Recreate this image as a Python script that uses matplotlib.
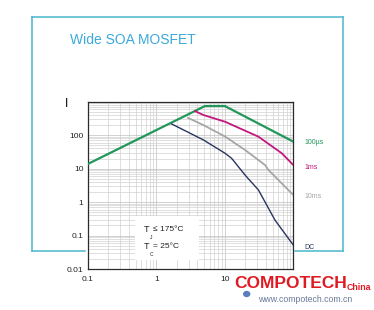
import numpy as np
import matplotlib
matplotlib.use("Agg")
import matplotlib.pyplot as plt
from matplotlib.lines import Line2D
from matplotlib.patches import Rectangle, Circle
import matplotlib.transforms as mtransforms

plt.rcParams["font.family"] = ["Liberation Sans", "DejaVu Sans"]

# ── data ─────────────────────────────────────────────────────────────────
x_100us = [0.1, 5.15, 10.0, 100]
y_100us = [13.7, 744, 744, 64]

x_1ms = [3.7, 4.88, 10.1, 31, 68, 100]
y_1ms = [520, 400, 252, 90, 28.7, 12.8]

x_10ms = [2.9, 4.88, 10.1, 19.8, 38.7, 43.4, 100]
y_10ms = [330, 200, 91, 36, 12.8, 9.1, 1.63]

x_dc = [1.68, 4.88, 10.1, 12.6, 19.8, 31, 54, 100]
y_dc = [216, 72, 28.7, 20.3, 6.4, 2.3, 0.29, 0.052]

series = [
    ("100\u00b5s", x_100us, y_100us, "#22975a", 1.6),
    ("1ms", x_1ms, y_1ms, "#c3177d", 1.3),
    ("10ms", x_10ms, y_10ms, "#a6a6a6", 1.3),
    ("DC", x_dc, y_dc, "#2a3560", 1.0),
]

x_ticks = [0.1, 1, 10]
x_ticklabels = ["0.1", "1", "10"]
y_ticks = [0.01, 0.1, 1, 10, 100]
y_ticklabels = ["0.01", "0.1", "1", "10", "100"]

# ── figure ───────────────────────────────────────────────────────────────
W, H = 374, 310
fig = plt.figure(figsize=(W / 100, H / 100), dpi=100)
fig.patch.set_facecolor("white")

def fx(px): return px / W
def fy(py): return 1 - py / H

# cyan frame behind the chart
frame_c = "#4ab6cc"
for xs, ys in [((32, 343), (17, 17)), ((32, 32), (17, 251)),
               ((343, 343), (17, 251)), ((32, 85), (251, 251)),
               ((295, 343), (251, 251))]:
    fig.add_artist(Line2D([fx(v) for v in xs], [fy(v) for v in ys],
                          color=frame_c, lw=1.1))

fig.text(fx(70), fy(40), "Wide SOA MOSFET", color="#3ba9da", fontsize=10,
         ha="left", va="center")
fig.text(fx(67), fy(104), "I", color="black", fontsize=8.5, ha="center", va="center")

ax = fig.add_axes([fx(87.7), fy(269), 205.6 / W, 167.3 / H])
ax.set_xscale("log"); ax.set_yscale("log")
ax.set_xlim(0.1, 100); ax.set_ylim(0.01, 1000)
ax.grid(True, which="major", color="#bfbfbf", lw=0.5)
ax.grid(True, which="minor", color="#d2d2d2", lw=0.5)
ax.set_axisbelow(True)
for s in ax.spines.values():
    s.set_color("#2b2b2b"); s.set_linewidth(0.9)

ax.set_xticks(x_ticks); ax.set_xticklabels(x_ticklabels)
ax.set_yticks(y_ticks); ax.set_yticklabels(y_ticklabels)
ax.xaxis.set_minor_formatter(plt.NullFormatter())
ax.yaxis.set_minor_formatter(plt.NullFormatter())
ax.tick_params(which="both", length=0, labelsize=6, colors="#222222")
ax.tick_params(axis="x", pad=5)
ax.tick_params(axis="y", pad=3)

for label, xs, ys, c, lw in series:
    ax.plot(xs, ys, color=c, lw=lw, solid_joinstyle="round", zorder=3)

# right-side labels
blend = mtransforms.blended_transform_factory(ax.transAxes, ax.transData)
label_y = [62, 11, 1.5, 0.045]
for (label, xs, ys, c, lw), yy in zip(series, label_y):
    ax.text(1.055, yy, label, transform=blend, color=c, fontsize=5,
            ha="left", va="center", clip_on=False)

# temperature box
ax.add_patch(Rectangle((0.23, 0.054), 0.31, 0.263, transform=ax.transAxes,
                       facecolor="white", edgecolor="none", zorder=4))
tk = dict(transform=ax.transAxes, color="#222222", zorder=5, va="center")
ax.text(0.287, 0.239, "T", fontsize=6.5, ha="center", **tk)
ax.text(0.308, 0.19, "J", fontsize=3.5, ha="center", **tk)
ax.text(0.318, 0.239, "\u2264 175\u00b0C", fontsize=6, ha="left", **tk)
ax.text(0.287, 0.133, "T", fontsize=6.5, ha="center", **tk)
ax.text(0.308, 0.084, "C", fontsize=3.5, ha="center", **tk)
ax.text(0.318, 0.133, "= 25\u00b0C", fontsize=6, ha="left", **tk)

# watermark
fig.text(fx(234), fy(284), "COMPOTECH", color="#e01a22", fontsize=12.5,
         fontweight="bold", ha="left", va="center")
fig.text(fx(347), fy(288), "China", color="#e01a22", fontsize=6.3,
         fontweight="bold", ha="left", va="center")
fig.text(fx(258), fy(300), "www.compotech.com.cn", color="#6a7a9a", fontsize=6.3,
         ha="left", va="center")
fig.add_artist(Circle((fx(246.7), fy(294)), 0.008, transform=fig.transFigure,
                      color="#5a7fc0", zorder=0))

fig.savefig("out.png", dpi=100)
